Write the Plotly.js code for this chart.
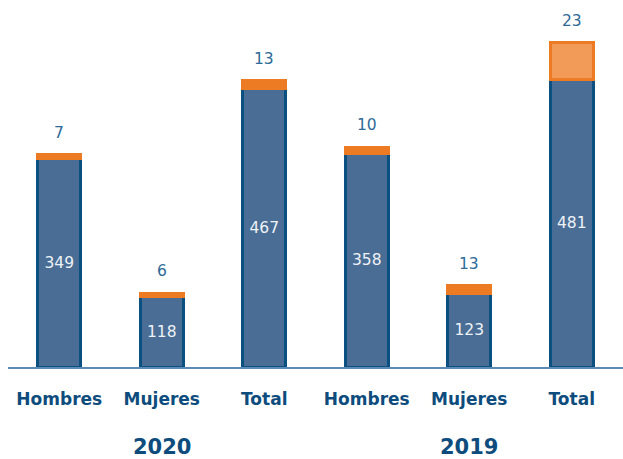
<!DOCTYPE html>
<html><head><meta charset="utf-8">
<script src="https://cdn.plot.ly/plotly-3.0.1.min.js"></script>
<style>html,body{margin:0;padding:0;background:#fff}#c{width:623px;height:459px}</style>
</head><body><div id="c"></div>
<script>
const categories = ["Hombres","Mujeres","Total","Hombres","Mujeres","Total"];
const years = ["2020","2019"];
const blueValues = [349,118,467,358,123,481];
const orangeLabels = [7,6,13,10,13,23];
// heights of the orange segments as drawn in the picture (the last one is drawn larger than its label)
const orangeDrawn = [7,6,13,10,13,62];

const xs = categories.map((_,i)=>i);
const BLUE='#496D94', NAVY='#0A5080', ORANGE='#EC7B23', LIGHTOR='#F29B58';
const FONT='"DejaVu Sans", "Open Sans", sans-serif';

const blue = {
  type:'bar', x:xs, y:blueValues, width:0.42,
  marker:{color:BLUE, line:{color:NAVY, width:3}},
  text:blueValues.map(String), textposition:'inside', insidetextanchor:'middle',
  textfont:{family:FONT, size:15.5, color:'#EEF2F7'}, hoverinfo:'none', textangle:0
};
const orange = {
  type:'bar', x:xs, y:orangeDrawn, width:0.42,
  marker:{color:orangeDrawn.map((_,i)=>i===5?LIGHTOR:ORANGE), line:{color:ORANGE, width:3}},
  hoverinfo:'none'
};
const anns = xs.map(i=>({
  x:i, y:blueValues[i]+orangeDrawn[i], xref:'x', yref:'y', text:String(orangeLabels[i]),
  showarrow:false, yanchor:'middle', yshift:22,
  font:{family:FONT, size:15.5, color:'#2E6A98'}
}));
years.forEach((yr,k)=>anns.push({
  x:1+3*k, y:-0.218, xref:'x', yref:'paper', text:'<b>'+yr+'</b>', showarrow:false,
  yanchor:'middle', font:{family:FONT, size:21, color:'#0D4C7C'}
}));

Plotly.newPlot('c',[blue,orange],{
  width:623, height:459, barmode:'stack', showlegend:false,
  margin:{l:8,r:0,t:0,b:92}, paper_bgcolor:'#fff', plot_bgcolor:'#fff',
  xaxis:{range:[-0.5,5.5], tickvals:xs, ticktext:categories.map(c=>'<b>'+c+'</b>'),
    showgrid:false, zeroline:false, showline:true, linecolor:'#5A8AB5', linewidth:2,
    ticks:'', ticklabelstandoff:16, tickfont:{family:FONT, size:17, color:'#0D4C7C'}, fixedrange:true},
  yaxis:{range:[0,615], visible:false, fixedrange:true},
  annotations:anns
},{displayModeBar:false, staticPlot:true});
</script></body></html>
